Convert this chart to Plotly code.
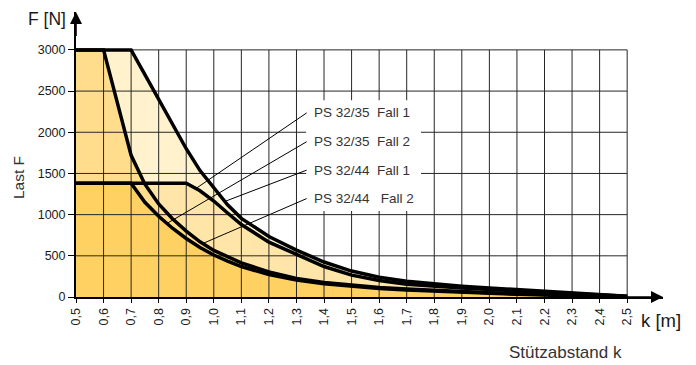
import numpy as np
import plotly.graph_objects as go

# ---------------- data ----------------
k_values = [0.5, 0.6, 0.7, 0.75, 0.8, 0.85, 0.9, 0.95, 1.0, 1.05, 1.1, 1.2, 1.3,
            1.4, 1.5, 1.6, 1.7, 1.8, 1.9, 2.0, 2.1, 2.2, 2.3, 2.4, 2.5]

ps3244_fall1 = [3000, 3000, 3000, 2700, 2400, 2100, 1800, 1535, 1320, 1120, 955, 735, 570,
                425, 315, 240, 190, 158, 132, 110, 90, 70, 50, 30, 10]
ps3244_fall2 = [3000, 3000, 1720, 1370, 1130, 950, 800, 670, 565, 485, 415, 305, 225,
                175, 140, 115, 97, 80, 65, 52, 40, 30, 20, 11, 3]
ps3235_fall1 = [1380, 1380, 1380, 1380, 1380, 1380, 1380, 1290, 1165, 1020, 880, 665, 515,
                370, 265, 200, 155, 128, 108, 90, 73, 56, 40, 24, 8]
ps3235_fall2 = [1380, 1380, 1380, 1150, 980, 835, 710, 600, 510, 435, 370, 272, 205,
                160, 128, 104, 86, 70, 55, 43, 32, 23, 15, 8, 2]

x_ticks = [0.5, 0.6, 0.7, 0.8, 0.9, 1.0, 1.1, 1.2, 1.3, 1.4, 1.5, 1.6, 1.7, 1.8, 1.9,
           2.0, 2.1, 2.2, 2.3, 2.4, 2.5]
x_tick_labels = ["0,5", "0,6", "0,7", "0,8", "0,9", "1,0", "1,1", "1,2", "1,3", "1,4",
                 "1,5", "1,6", "1,7", "1,8", "1,9", "2,0", "2,1", "2,2", "2,3", "2,4", "2,5"]
y_ticks = [0, 500, 1000, 1500, 2000, 2500, 3000]
y_tick_labels = ["0", "500", "1000", "1500", "2000", "2500", "3000"]

series_labels = ["PS 32/35\u00a0\u00a0Fall 1", "PS 32/35\u00a0\u00a0Fall 2",
                 "PS 32/44\u00a0\u00a0Fall 1", "PS 32/44\u00a0\u00a0\u00a0Fall 2"]
label_F = [2235, 1885, 1540, 1195]          # label rows (in N)
leader_k = [0.935, 0.83, 1.04, 0.96]        # where the leader lines touch the curves

# ---------------- figure ----------------
FONT = "Liberation Sans, Arial, Helvetica, sans-serif"
TXT = "#1a1a1a"
XR = [0.5, 2.63]
YR = [0, 3460]
OFF = 8                      # page body margin
W, H = 696 - OFF, 365 - OFF
L, T = 76 - OFF, 12 - OFF
R = W - (663 - OFF)
B = H - (297 - OFF)
pw, ph = W - L - R, H - T - B


def px(xp):
    return (xp - OFF - L) / pw


def py(yp):
    return (H - B - (yp - OFF)) / ph


fig = go.Figure()

fills = [(ps3244_fall1, "#FFF2CD"), (ps3235_fall1, "#FFE6A8"),
         (ps3244_fall2, "#FFDD8C"), (ps3235_fall2, "#FFD163")]
for ys, col in fills:
    fig.add_trace(go.Scatter(x=k_values, y=ys, mode="lines", fill="tozeroy",
                             fillcolor=col, line=dict(width=0), hoverinfo="skip",
                             showlegend=False))

# grid drawn above the fills
gx, gy = [], []
for k in x_ticks[1:]:
    gx += [k, k, None]
    gy += [0, y_ticks[-1], None]
for f in y_ticks[1:]:
    gx += [x_ticks[0], x_ticks[-1], None]
    gy += [f, f, None]
fig.add_trace(go.Scatter(x=gx, y=gy, mode="lines", line=dict(color="#262626", width=1),
                         hoverinfo="skip", showlegend=False))

curves = [ps3235_fall1, ps3235_fall2, ps3244_fall1, ps3244_fall2]
for name, ys in zip(series_labels, curves):
    fig.add_trace(go.Scatter(x=k_values, y=ys, mode="lines", name=name,
                             line=dict(color="black", width=3.5), showlegend=False))

shapes = []
# white box behind labels
shapes.append(dict(type="rect", xref="x", yref="y", x0=1.335, x1=1.752, y0=1045, y1=2390,
                   fillcolor="white", line=dict(width=0), layer="above"))
annotations = []
x_text = 1.355
x_line = 1.337
for lab, fy, kk, ys in zip(series_labels, label_F, leader_k, curves):
    yk = float(np.interp(kk, k_values, ys))
    shapes.append(dict(type="line", xref="x", yref="y", x0=x_line, y0=fy, x1=kk, y1=yk,
                       line=dict(color="black", width=1), layer="above"))
    annotations.append(dict(x=x_text, y=fy, xref="x", yref="y", text=lab, showarrow=False,
                            xanchor="left", yanchor="middle",
                            font=dict(family=FONT, size=13.5, color="#333")))

# axis arrows
annotations.append(dict(x=XR[1], y=0, ax=2.45, ay=0, xref="x", yref="y", axref="x", ayref="y",
                        text="", showarrow=True, arrowhead=2, arrowsize=1.5, arrowwidth=1.6,
                        arrowcolor="black"))
annotations.append(dict(x=0.5, y=YR[1], ax=0.5, ay=3150, xref="x", yref="y", axref="x",
                        ayref="y", text="", showarrow=True, arrowhead=2, arrowsize=1.5,
                        arrowwidth=1.6, arrowcolor="black"))

# axis titles
annotations.append(dict(x=px(68), y=py(19), xref="paper", yref="paper", text="F [N]",
                        showarrow=False, xanchor="right", yanchor="middle",
                        font=dict(family=FONT, size=17.5, color=TXT)))
annotations.append(dict(x=px(18), y=py(178), xref="paper", yref="paper", text="Last F",
                        showarrow=False, textangle=-90, xanchor="center", yanchor="middle",
                        font=dict(family=FONT, size=15.5, color="#333")))
annotations.append(dict(x=px(639), y=py(320), xref="paper", yref="paper", text="k [m]",
                        showarrow=False, xanchor="left", yanchor="middle",
                        font=dict(family=FONT, size=18.5, color=TXT)))
annotations.append(dict(x=px(565), y=py(352), xref="paper", yref="paper",
                        text="Stützabstand k", showarrow=False, xanchor="center",
                        yanchor="middle", font=dict(family=FONT, size=17, color="#333")))

fig.update_layout(
    width=W, height=H, margin=dict(l=L, r=R, t=T, b=B, autoexpand=False),
    plot_bgcolor="white", paper_bgcolor="white", showlegend=False,
    shapes=shapes, annotations=annotations,
    xaxis=dict(range=XR, showgrid=False, zeroline=False, showline=True, linecolor="black",
               linewidth=2, ticks="outside", ticklen=4, tickcolor="black", tickwidth=1,
               tickvals=x_ticks, ticktext=x_tick_labels, tickangle=-90, automargin=False,
               tickfont=dict(family=FONT, size=12.5, color=TXT), fixedrange=True),
    yaxis=dict(range=YR, showgrid=False, zeroline=False, showline=True, linecolor="black",
               linewidth=2, ticks="outside", ticklen=6, tickcolor="black", tickwidth=1,
               tickvals=y_ticks, ticktext=y_tick_labels, automargin=False,
               tickfont=dict(family=FONT, size=12.5, color=TXT), fixedrange=True),
)

fig.write_html("out.html")
